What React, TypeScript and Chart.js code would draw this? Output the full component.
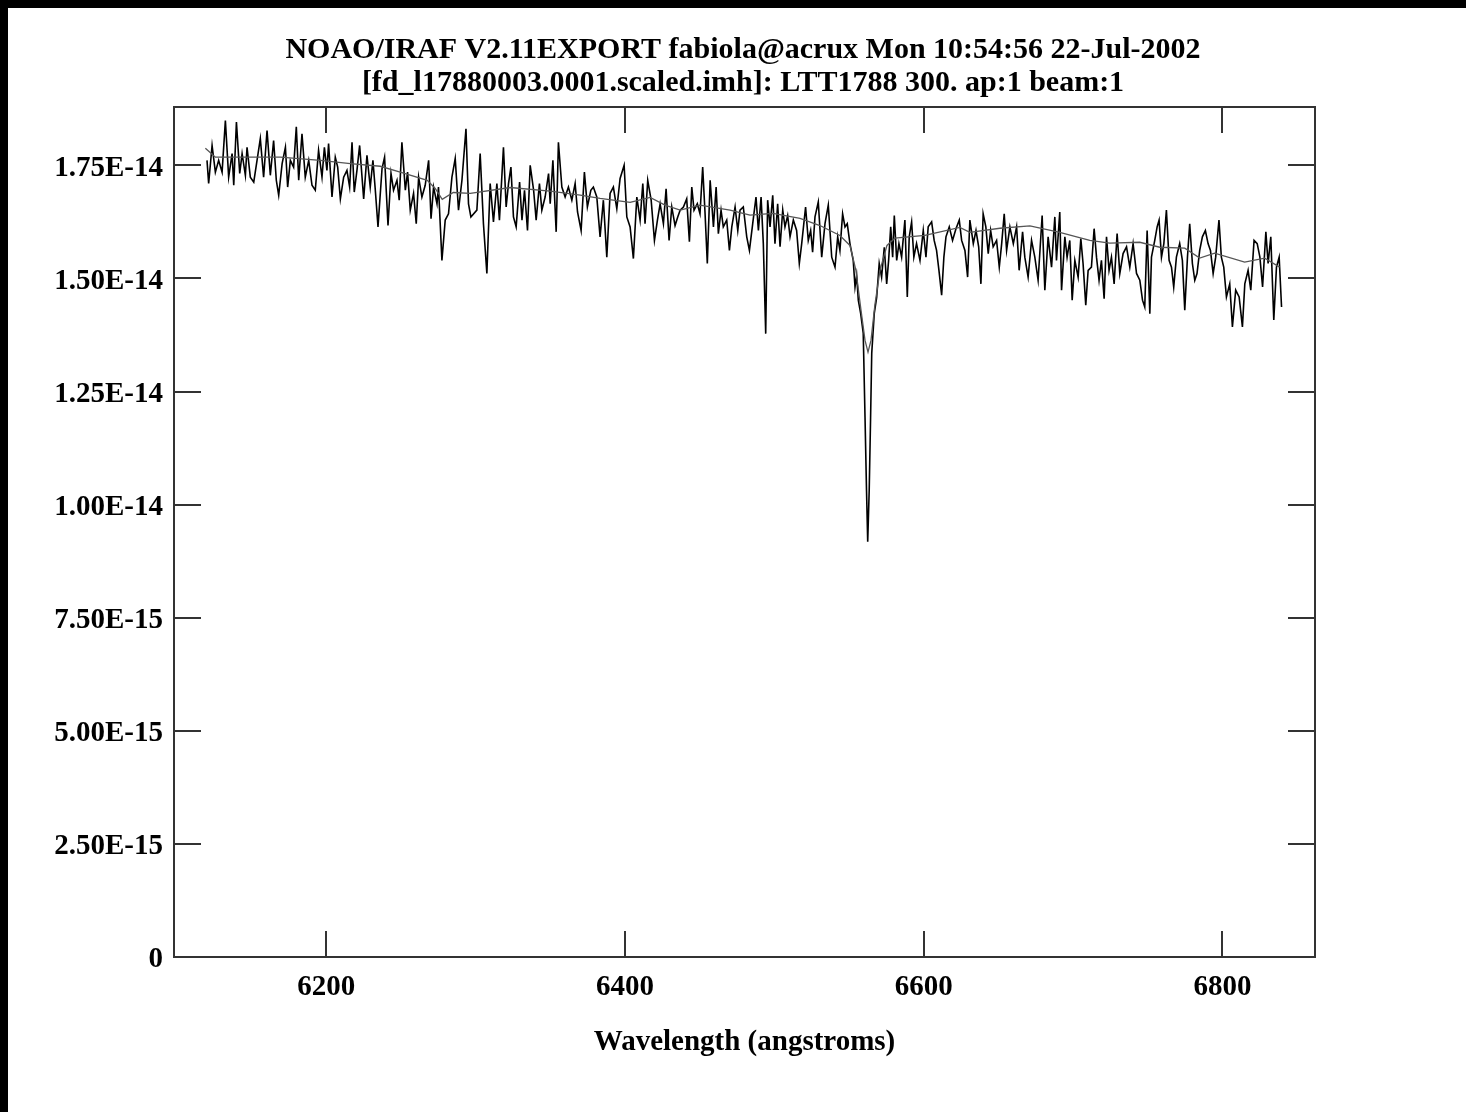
import React, { useEffect, useRef } from "react";
import { Chart, registerables } from "chart.js";

Chart.register(...registerables);

const TITLE_LINES = [
  "NOAO/IRAF V2.11EXPORT fabiola@acrux Mon 10:54:56 22-Jul-2002",
  "[fd_l17880003.0001.scaled.imh]: LTT1788 300. ap:1 beam:1",
];
const X_AXIS_TITLE = "Wavelength (angstroms)";
const X_TICKS = [6200, 6400, 6600, 6800];
// flux in units of 1e-14
const FLUX_UNIT = 1e-14;
const Y_TICKS = [0, 0.25, 0.5, 0.75, 1.0, 1.25, 1.5, 1.75];
const X_MIN = 6098;
const X_MAX = 6862;
const Y_MIN = 0;
const Y_MAX = 1.879;

// observed spectrum (wavelength in angstroms)
const WAVE_OBS = [
  6120.1, 6121.2, 6123.5, 6125.7, 6127.9, 6130.2, 6132.4, 6134.6, 6136.9, 6138.0,
  6139.8, 6142.0, 6143.6, 6145.8, 6146.9, 6149.1, 6151.4, 6153.6, 6155.8, 6158.0,
  6160.3, 6162.5, 6164.7, 6166.5, 6168.1, 6170.4, 6172.6, 6174.1, 6175.9, 6178.1,
  6179.9, 6181.5, 6183.7, 6185.9, 6188.2, 6190.4, 6192.6, 6194.8, 6197.1, 6198.7,
  6200.4, 6201.5, 6203.8, 6206.0, 6207.6, 6209.4, 6211.6, 6213.8, 6215.6, 6217.2,
  6218.7, 6220.5, 6222.3, 6225.0, 6227.2, 6229.4, 6231.2, 6232.8, 6234.6, 6237.3,
  6239.0, 6241.3, 6243.3, 6245.0, 6247.3, 6248.8, 6250.6, 6252.9, 6254.4, 6256.2,
  6258.4, 6260.2, 6261.8, 6264.0, 6266.2, 6268.5, 6270.1, 6271.8, 6274.1, 6275.1,
  6277.4, 6279.6, 6281.8, 6284.1, 6286.3, 6288.5, 6290.8, 6293.5, 6295.2, 6296.8,
  6300.8, 6303.0, 6305.2, 6307.5, 6309.7, 6311.9, 6314.2, 6315.9, 6318.6, 6320.4,
  6322.0, 6323.6, 6325.3, 6327.1, 6329.4, 6331.0, 6332.7, 6334.7, 6336.5, 6338.8,
  6340.5, 6342.7, 6344.3, 6346.5, 6348.8, 6349.9, 6351.7, 6353.9, 6355.4, 6357.7,
  6359.9, 6362.1, 6364.4, 6366.6, 6368.2, 6370.6, 6372.8, 6374.8, 6377.1, 6378.8,
  6381.1, 6383.3, 6385.5, 6387.8, 6390.0, 6392.2, 6394.5, 6396.7, 6399.4, 6401.2,
  6403.4, 6405.6, 6407.9, 6410.1, 6411.9, 6413.4, 6415.2, 6417.5, 6419.7, 6421.7,
  6423.5, 6425.7, 6427.5, 6429.5, 6431.3, 6433.5, 6435.3, 6436.9, 6439.1, 6441.3,
  6443.1, 6444.7, 6446.2, 6448.4, 6450.2, 6452.0, 6453.6, 6455.1, 6457.0, 6459.2,
  6461.0, 6462.5, 6464.3, 6465.8, 6468.1, 6469.9, 6471.5, 6473.7, 6475.5, 6477.0,
  6479.2, 6481.5, 6483.3, 6485.5, 6487.7, 6489.3, 6491.1, 6492.6, 6494.2, 6495.5,
  6497.1, 6498.9, 6500.4, 6502.2, 6503.8, 6505.6, 6507.1, 6508.9, 6510.5, 6512.7,
  6514.9, 6516.7, 6518.3, 6520.9, 6522.7, 6524.3, 6525.6, 6527.2, 6529.4, 6531.7,
  6533.9, 6536.1, 6538.4, 6540.6, 6542.4, 6543.9, 6545.7, 6547.3, 6548.8, 6550.6,
  6552.8, 6554.0, 6555.1, 6556.2, 6557.8, 6559.5, 6560.7, 6561.7, 6562.5, 6563.5,
  6564.4, 6565.2, 6566.9, 6568.5, 6570.2, 6571.8, 6573.6, 6575.2, 6576.5, 6577.9,
  6579.2, 6580.3, 6581.9, 6583.4, 6585.2, 6587.4, 6589.0, 6590.3, 6591.9, 6593.4,
  6595.2, 6597.5, 6599.7, 6601.5, 6603.0, 6605.3, 6607.0, 6608.6, 6610.2, 6612.0,
  6613.5, 6614.9, 6617.1, 6619.3, 6621.6, 6623.8, 6625.4, 6627.6, 6629.4, 6630.9,
  6633.2, 6635.0, 6636.8, 6638.3, 6639.8, 6641.6, 6643.2, 6644.8, 6646.5, 6648.8,
  6650.6, 6652.2, 6653.9, 6655.5, 6657.7, 6660.0, 6662.2, 6663.9, 6666.2, 6667.7,
  6669.9, 6672.2, 6674.4, 6676.6, 6679.3, 6681.1, 6683.3, 6685.6, 6687.8, 6688.9,
  6691.1, 6692.3, 6694.5, 6696.0, 6697.8, 6699.4, 6701.2, 6703.4, 6705.2, 6706.7,
  6708.5, 6710.1, 6712.3, 6714.1, 6715.7, 6717.4, 6719.0, 6720.8, 6722.4, 6724.1,
  6725.7, 6727.5, 6729.5, 6731.3, 6733.5, 6735.8, 6738.0, 6740.2, 6742.5, 6744.7,
  6746.5, 6748.0, 6749.6, 6751.4, 6752.5, 6754.7, 6756.3, 6757.6, 6759.2, 6760.8,
  6762.5, 6764.3, 6765.9, 6767.4, 6769.2, 6771.4, 6773.2, 6774.8, 6776.6, 6778.1,
  6779.9, 6781.5, 6783.0, 6784.8, 6786.6, 6788.6, 6790.4, 6792.0, 6793.8, 6795.5,
  6797.7, 6799.3, 6800.9, 6802.7, 6804.9, 6806.7, 6808.9, 6811.2, 6813.4, 6815.0,
  6817.2, 6819.0, 6821.2, 6823.3, 6825.1, 6826.9, 6829.1, 6830.6, 6832.4, 6834.4,
  6836.2, 6838.0, 6839.6,
];

const FLUX_OBS = [
  1.761, 1.710, 1.794, 1.735, 1.761, 1.735, 1.849, 1.724, 1.776, 1.706,
  1.846, 1.732, 1.776, 1.728, 1.790, 1.724, 1.713, 1.761, 1.809, 1.724,
  1.827, 1.728, 1.805, 1.717, 1.684, 1.754, 1.790, 1.702, 1.761, 1.746,
  1.835, 1.717, 1.820, 1.724, 1.761, 1.706, 1.695, 1.783, 1.724, 1.790,
  1.739, 1.798, 1.680, 1.768, 1.746, 1.676, 1.724, 1.739, 1.702, 1.801,
  1.691, 1.739, 1.794, 1.676, 1.772, 1.702, 1.761, 1.695, 1.614, 1.743,
  1.768, 1.617, 1.732, 1.695, 1.717, 1.673, 1.801, 1.695, 1.735, 1.651,
  1.688, 1.621, 1.724, 1.680, 1.706, 1.761, 1.632, 1.702, 1.665, 1.702,
  1.540, 1.629, 1.643, 1.724, 1.765, 1.651, 1.717, 1.831, 1.665, 1.636,
  1.651, 1.776, 1.621, 1.511, 1.710, 1.625, 1.710, 1.629, 1.790, 1.658,
  1.710, 1.746, 1.636, 1.614, 1.713, 1.629, 1.695, 1.606, 1.750, 1.695,
  1.629, 1.710, 1.651, 1.680, 1.732, 1.665, 1.761, 1.603, 1.801, 1.702,
  1.680, 1.702, 1.673, 1.710, 1.647, 1.606, 1.735, 1.658, 1.695, 1.702,
  1.680, 1.592, 1.673, 1.547, 1.688, 1.702, 1.654, 1.721, 1.750, 1.636,
  1.614, 1.544, 1.680, 1.629, 1.710, 1.621, 1.717, 1.673, 1.584, 1.629,
  1.665, 1.621, 1.698, 1.584, 1.658, 1.617, 1.636, 1.651, 1.658, 1.676,
  1.581, 1.702, 1.651, 1.665, 1.643, 1.746, 1.643, 1.533, 1.717, 1.614,
  1.702, 1.599, 1.651, 1.614, 1.629, 1.562, 1.614, 1.658, 1.606, 1.651,
  1.658, 1.592, 1.562, 1.621, 1.680, 1.606, 1.680, 1.577, 1.378, 1.673,
  1.614, 1.684, 1.577, 1.665, 1.570, 1.651, 1.614, 1.639, 1.592, 1.629,
  1.606, 1.533, 1.577, 1.658, 1.584, 1.606, 1.558, 1.636, 1.669, 1.547,
  1.621, 1.662, 1.547, 1.525, 1.592, 1.562, 1.643, 1.614, 1.621, 1.577,
  1.540, 1.481, 1.507, 1.452, 1.422, 1.379, 1.193, 1.032, 0.918, 1.032,
  1.187, 1.335, 1.423, 1.458, 1.533, 1.503, 1.569, 1.488, 1.540, 1.614,
  1.547, 1.639, 1.540, 1.577, 1.547, 1.629, 1.459, 1.592, 1.625, 1.547,
  1.577, 1.540, 1.606, 1.547, 1.614, 1.625, 1.584, 1.562, 1.518, 1.463,
  1.547, 1.592, 1.614, 1.584, 1.610, 1.629, 1.584, 1.562, 1.503, 1.629,
  1.577, 1.606, 1.570, 1.488, 1.643, 1.614, 1.555, 1.606, 1.570, 1.584,
  1.525, 1.577, 1.643, 1.562, 1.614, 1.577, 1.614, 1.518, 1.603, 1.547,
  1.503, 1.584, 1.547, 1.496, 1.639, 1.474, 1.592, 1.525, 1.636, 1.540,
  1.647, 1.474, 1.592, 1.547, 1.584, 1.452, 1.540, 1.503, 1.588, 1.533,
  1.441, 1.518, 1.525, 1.610, 1.547, 1.496, 1.540, 1.455, 1.592, 1.518,
  1.547, 1.488, 1.599, 1.511, 1.555, 1.570, 1.525, 1.577, 1.511, 1.496,
  1.452, 1.437, 1.606, 1.422, 1.547, 1.584, 1.614, 1.629, 1.547, 1.577,
  1.651, 1.540, 1.525, 1.481, 1.547, 1.577, 1.540, 1.430, 1.547, 1.621,
  1.533, 1.496, 1.511, 1.562, 1.592, 1.606, 1.577, 1.562, 1.511, 1.547,
  1.629, 1.547, 1.525, 1.459, 1.488, 1.393, 1.474, 1.459, 1.393, 1.488,
  1.518, 1.474, 1.584, 1.577, 1.547, 1.481, 1.603, 1.533, 1.592, 1.408,
  1.525, 1.547, 1.437,
];

// smoothed / fitted spectrum
const WAVE_FIT = [
  6119.0, 6125.7, 6142.5, 6169.2, 6196.0, 6216.1, 6236.1, 6249.5, 6267.6, 6272.9,
  6277.6, 6285.0, 6296.4, 6323.1, 6349.9, 6370.0, 6383.3, 6403.4, 6416.8, 6426.8,
  6436.9, 6450.2, 6470.3, 6483.7, 6499.1, 6517.2, 6530.5, 6543.9, 6550.6, 6554.6,
  6558.0, 6560.7, 6562.7, 6564.7, 6567.3, 6570.7, 6575.4, 6580.7, 6600.8, 6624.2,
  6630.9, 6651.0, 6671.1, 6691.1, 6711.2, 6724.6, 6744.7, 6758.1, 6774.8, 6784.8,
  6794.8, 6814.9, 6828.3, 6838.3,
];
const FLUX_FIT = [
  1.788, 1.768, 1.768, 1.768, 1.761, 1.754, 1.748, 1.735, 1.717, 1.699,
  1.675, 1.690, 1.688, 1.701, 1.693, 1.684, 1.677, 1.668, 1.679, 1.662,
  1.651, 1.662, 1.651, 1.640, 1.644, 1.633, 1.617, 1.595, 1.573, 1.518,
  1.430, 1.363, 1.337, 1.363, 1.441, 1.518, 1.573, 1.589, 1.595, 1.613,
  1.602, 1.611, 1.616, 1.602, 1.584, 1.578, 1.580, 1.569, 1.567, 1.545,
  1.556, 1.536, 1.545, 1.525,
];

const FONT_FAMILY = "'Liberation Serif', 'Times New Roman', serif";
const FRAME_COLOR = "#333333";

const fmtFlux = (v: number): string => {
  if (Math.abs(v) < 1e-9) return "0";
  const s = (v * FLUX_UNIT).toExponential(2).toUpperCase();
  return s.replace(/E([+-])(\d)$/, "E$10$2");
};

const frameTicksPlugin = {
  id: "frameTicks",
  afterDatasetsDraw(chart: any) {
    const { ctx, chartArea: a, scales } = chart;
    const xs = scales.x;
    const ys = scales.y;
    ctx.save();
    ctx.strokeStyle = FRAME_COLOR;
    ctx.lineWidth = 2;
    ctx.strokeRect(a.left, a.top, a.right - a.left, a.bottom - a.top);
    ctx.beginPath();
    for (const t of xs.ticks) {
      const px = Math.round(xs.getPixelForValue(t.value));
      ctx.moveTo(px, a.bottom);
      ctx.lineTo(px, a.bottom - 26);
      ctx.moveTo(px, a.top);
      ctx.lineTo(px, a.top + 26);
    }
    for (const t of ys.ticks) {
      const py = Math.round(ys.getPixelForValue(t.value));
      ctx.moveTo(a.left, py);
      ctx.lineTo(a.left + 27, py);
      ctx.moveTo(a.right, py);
      ctx.lineTo(a.right - 27, py);
    }
    ctx.stroke();
    ctx.restore();
  },
};

export default function App() {
  const ref = useRef<HTMLCanvasElement | null>(null);

  useEffect(() => {
    const canvas = ref.current;
    if (!canvas) return;
    const obs = WAVE_OBS.map((w, i) => ({ x: w, y: FLUX_OBS[i] }));
    const fit = WAVE_FIT.map((w, i) => ({ x: w, y: FLUX_FIT[i] }));
    const font = { family: FONT_FAMILY, size: 29, weight: "bold" as const };
    const chart = new Chart(canvas, {
      type: "scatter",
      data: {
        datasets: [
          {
            data: obs,
            showLine: true,
            borderColor: "#000000",
            borderWidth: 1.6,
            pointRadius: 0,
            tension: 0,
            order: 1,
          },
          {
            data: fit,
            showLine: true,
            borderColor: "#555555",
            borderWidth: 1.3,
            pointRadius: 0,
            tension: 0,
            order: 0,
          },
        ],
      },
      options: {
        animation: false,
        responsive: false,
        devicePixelRatio: 1,
        events: [],
        layout: { padding: { left: 12, right: 0, top: 0, bottom: 0 } },
        plugins: {
          legend: { display: false },
          tooltip: { enabled: false },
          title: {
            display: true,
            text: TITLE_LINES,
            color: "#000",
            font: { family: FONT_FAMILY, size: 30, weight: "bold", lineHeight: "33px" },
            padding: { top: 25.5, bottom: 7.5 },
          },
        },
        scales: {
          x: {
            type: "linear",
            min: X_MIN,
            max: X_MAX,
            afterFit: (s: any) => {
              s.height = 155;
            },
            afterBuildTicks: (s: any) => {
              s.ticks = X_TICKS.map((v) => ({ value: v }));
            },
            grid: { display: false, drawTicks: false },
            border: { display: false },
            ticks: {
              color: "#000",
              font,
              padding: 13,
              maxRotation: 0,
              autoSkip: false,
              callback: (v: any) => String(v),
            },
            title: {
              display: true,
              text: X_AXIS_TITLE,
              color: "#000",
              font,
              padding: { top: 0, bottom: 52 },
            },
          },
          y: {
            type: "linear",
            position: "left",
            min: Y_MIN,
            max: Y_MAX,
            afterFit: (s: any) => {
              s.width = 154;
            },
            afterBuildTicks: (s: any) => {
              s.ticks = Y_TICKS.map((v) => ({ value: v }));
            },
            grid: { display: false, drawTicks: false },
            border: { display: false },
            ticks: {
              color: "#000",
              font,
              padding: 11,
              labelOffset: 3,
              autoSkip: false,
              callback: (v: any) => fmtFlux(Number(v)),
            },
          },
          yRight: {
            type: "linear",
            position: "right",
            min: Y_MIN,
            max: Y_MAX,
            afterFit: (s: any) => {
              s.width = 151;
            },
            grid: { display: false, drawTicks: false },
            border: { display: false },
            ticks: { display: false },
          },
        },
      },
      plugins: [frameTicksPlugin],
    } as any);
    return () => chart.destroy();
  }, []);

  return (
    <div
      style={{
        position: "fixed",
        left: 0,
        top: 0,
        width: 1466,
        height: 1112,
        background: "#000",
        overflow: "hidden",
      }}
    >
      <div
        style={{
          position: "absolute",
          left: 8,
          top: 8,
          width: 1458,
          height: 1104,
          background: "#fff",
        }}
      >
        <canvas ref={ref} width={1458} height={1104} style={{ display: "block" }} />
      </div>
    </div>
  );
}
